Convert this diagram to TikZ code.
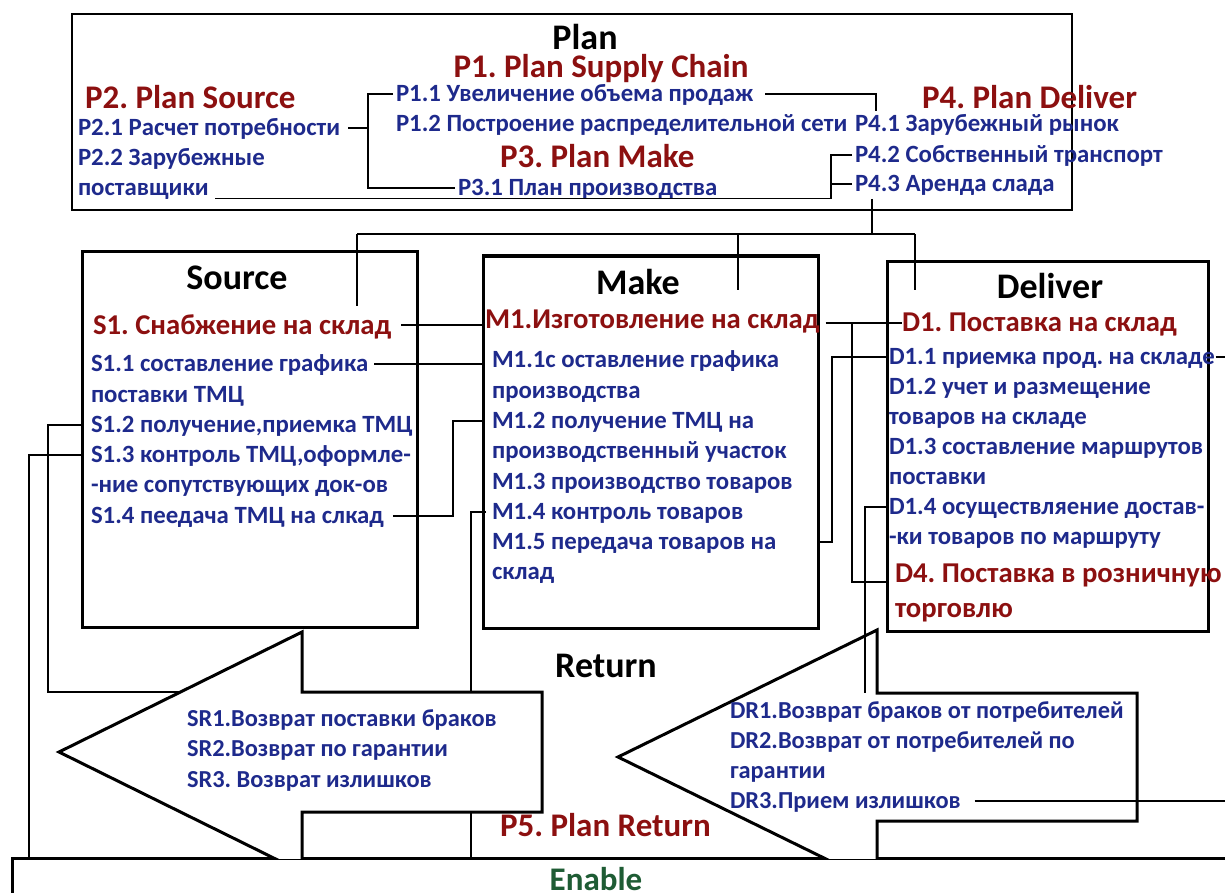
\documentclass[tikz,border=0pt]{standalone}
\usepackage{fontspec}
\setmainfont{Carlito}
\usetikzlibrary{calc}

\definecolor{headred}{RGB}{140,16,16}
\definecolor{itemblue}{RGB}{30,42,140}
\definecolor{enablegreen}{RGB}{30,92,52}

\tikzset{
  lbl/.style={inner sep=0pt, outer sep=0pt, anchor=west, text depth=0pt},
  itemtxt/.style={lbl, text=itemblue, font=\fontsize{24.8}{28}\selectfont\bfseries, text height=15.6pt},
  rettxt/.style={lbl, text=itemblue, font=\fontsize{24.4}{28}\selectfont\bfseries, text height=15.3pt},
  headtxt/.style={lbl, text=headred, font=\fontsize{28.7}{34}\selectfont\bfseries, text height=18.1pt},
  planhead/.style={lbl, text=headred, font=\fontsize{33}{38}\selectfont\bfseries, text height=20.8pt},
  stagetitle/.style={lbl, anchor=center, font=\fontsize{36}{42}\selectfont\bfseries, text height=22.7pt},
  stagebox/.style={draw, line width=3pt, inner sep=0pt, outer sep=0pt, anchor=north west},
  wire/.style={line width=1.4pt},
  retarrow/.style={draw, fill=white, line width=3pt, line join=miter}
}

\begin{document}
\frenchspacing
\begin{tikzpicture}[x=1pt, y=-1pt]
\useasboundingbox (0,0) rectangle (1225,893);

% plan
\node[stagebox, line width=2.2pt, minimum width=1000pt, minimum height=196pt] (planbox) at (72,14) {};
\node[stagetitle] (plan) at (585,38) {Plan};
\node[planhead, anchor=center] (p1) at (601,67) {P1. Plan Supply Chain};
\node[planhead] (p2) at (85,98) {P2. Plan Source};
\node[itemtxt] (p21) at (78,128) {P2.1 Расчет потребности};
\node[itemtxt] (p22) at (78,158) {P2.2 Зарубежные};
\node[itemtxt] (p22b) at (78,188) {поставщики};
\node[itemtxt] (p11) at (396,94) {P1.1 Увеличение объема продаж};
\node[itemtxt] (p12) at (396,124) {P1.2 Построение распределительной сети};
\node[planhead] (p3) at (500,157) {P3. Plan Make};
\node[itemtxt] (p31) at (458,188) {P3.1 План производства};
\node[planhead] (p4) at (922,98) {P4. Plan Deliver};
\node[itemtxt] (p41) at (855,124) {P4.1 Зарубежный рынок};
\node[itemtxt] (p42) at (855,155) {P4.2 Собственный транспорт};
\node[itemtxt] (p43) at (855,184) {P4.3 Аренда слада};

\coordinate (planL) at (368,0);
\coordinate (planR) at (831,0);
\coordinate (lowrow) at ([shift={(6pt,-3pt)}]p22b.south east);
\draw[wire] ([xshift=-3pt]p11.west) -| (planL |- p31.west) -- ([xshift=-3pt]p31.west);
\draw[wire] ([xshift=8pt]p21.east) -- (planL |- p21.east);
\draw[wire] ([xshift=12pt]p11.east) -| ([shift={(21pt,5pt)}]p41.north west);
\draw[wire] ([xshift=-3pt]p42.west) -| (planR |- lowrow) -- (lowrow);
\draw[wire] ([xshift=-3pt]p43.west) -- (planR |- p43.west);

% source
\node[stagebox, minimum width=335pt, minimum height=375pt] (srcbox) at (82,252) {};
\node[stagetitle] (src) at (237,278) {Source};
\node[headtxt] (s1) at (93,325) {S1. Снабжение на склад};
\node[itemtxt] (s11) at (91,364) {S1.1 составление графика};
\node[itemtxt] (s11b) at (91,395) {поставки ТМЦ};
\node[itemtxt] (s12) at (91,425) {S1.2 получение,приемка ТМЦ};
\node[itemtxt] (s13) at (91,455) {S1.3 контроль ТМЦ,оформле-};
\node[itemtxt] (s13b) at (91,485) {-ние сопутствующих док-ов};
\node[itemtxt] (s14) at (91,516) {S1.4 пеедача ТМЦ на слкад};

% make
\node[stagebox, minimum width=335pt, minimum height=372pt] (mkbox) at (483,256) {};
\node[stagetitle] (mk) at (638,283) {Make};
\node[headtxt] (m1) at (485,319) {M1.Изготовление на склад};
\node[itemtxt] (m11) at (492,360) {M1.1с оставление графика};
\node[itemtxt] (m11b) at (492,391) {производства};
\node[itemtxt] (m12) at (492,421) {M1.2 получение ТМЦ на};
\node[itemtxt] (m12b) at (492,451) {производственный участок};
\node[itemtxt] (m13) at (492,482) {M1.3 производство товаров};
\node[itemtxt] (m14) at (492,512) {M1.4 контроль товаров};
\node[itemtxt] (m15) at (492,542) {M1.5 передача товаров на};
\node[itemtxt] (m15b) at (492,572) {склад};

% deliver
\node[stagebox, minimum width=321pt, minimum height=370pt] (dlvbox) at (887,261) {};
\node[stagetitle] (dlv) at (1050,287) {Deliver};
\node[headtxt] (d1) at (902,322) {D1. Поставка на склад};
\node[itemtxt] (d11) at (889,357) {D1.1 приемка прод. на складе};
\node[itemtxt] (d12) at (889,387) {D1.2 учет и размещение};
\node[itemtxt] (d12b) at (889,417) {товаров на складе};
\node[itemtxt] (d13) at (889,447) {D1.3 составление маршрутов};
\node[itemtxt] (d13b) at (889,477) {поставки};
\node[itemtxt] (d14) at (889,507) {D1.4 осуществляение достав-};
\node[itemtxt] (d14b) at (889,537) {-ки товаров по маршруту};
\node[headtxt] (d4) at (895,573) {D4. Поставка в розничную};
\node[headtxt] (d4b) at (895,608) {торговлю};

% enable
\node[stagebox, fill=white, minimum width=1240pt, minimum height=80pt] (enable) at (12,858) {};
\node[planhead, anchor=center, text=enablegreen] (enabletxt) at (596,880) {Enable};

% plan to stages
\coordinate (busL) at (357,234);
\coordinate (busM) at (738,234);
\coordinate (busR) at (915,234);
\coordinate (p43drop) at ([shift={(17pt,-7pt)}]p43.south west);
\draw[wire] (busL) -- (busR);
\draw[wire] (p43drop) -- (p43drop |- busL);
\draw[wire] (busL) -- ($(busL |- s1.north)+(0,-10)$);
\draw[wire] (busM) -- ($(busM |- m1.north)+(0,-20)$);
\draw[wire] (busR) -- ($(busR |- d1.north)+(0,-23)$);

% between stages
\coordinate (colS) at (453,0);
\coordinate (colM) at (471,0);
\coordinate (colMD) at (832,0);
\coordinate (colD4) at (852,0);
\coordinate (mdline) at ([shift={(6pt,-4pt)}]m1.east);
\coordinate (srNeck) at (302,692);
\coordinate (drNeck) at (877,693);
\coordinate (frameR) at (1225,0);
\draw[wire] ([xshift=10pt]s1.east) -- (mkbox.west |- s1.east);
\draw[wire] ([xshift=6pt]s11.east) -- (mkbox.west |- s11.east);
\draw[wire] ([xshift=9pt]s14.east) -| (colS |- m12.west) -- (mkbox.west |- m12.west);
\draw[wire] ([xshift=-6pt]m14.west) -| (colM |- enable.north);
\draw[wire] (srcbox.west |- s12.west) -- ++(-34,0) |- (srNeck);

% return
\begin{scope}
\clip (0,0) rectangle (1225,858);
\draw[retarrow] (59,752) -- (302,632) -- (srNeck) -- (542,692) -- (542,812) -- (302,812) -- (302,872) -- cycle;
\draw[retarrow] (618,757) -- (877,630) -- (drNeck) -- (1137,693) -- (1137,821) -- (877,821) -- (877,884) -- cycle;
\end{scope}
\node[stagetitle] (ret) at (606,666) {Return};
\node[planhead] (p5) at (500,826) {P5. Plan Return};
\node[rettxt] (sr1) at (187,719) {SR1.Возврат поставки браков};
\node[rettxt] (sr2) at (187,749) {SR2.Возврат по гарантии};
\node[rettxt] (sr3) at (187,780) {SR3. Возврат излишков};
\node[rettxt] (dr1) at (730,711) {DR1.Возврат браков от потребителей};
\node[rettxt] (dr2) at (730,741) {DR2.Возврат от потребителей по};
\node[rettxt] (dr2b) at (730,771) {гарантии};
\node[rettxt] (dr3) at (730,801) {DR3.Прием излишков};

\draw[wire] (mdline) -- (mdline -| d1.west);
\draw[wire] (colD4 |- mdline) |- ([yshift=-9pt]dlvbox.west |- d4.west);
\draw[wire] (mkbox.east |- m15.west) -| (colMD |- d11.west) -- (dlvbox.west |- d11.west);
\draw[wire] (dlvbox.west |- d14.west) -| ($(drNeck)+(-12,0)$);
\draw[wire] (srcbox.west |- s13.west) -| ([xshift=17pt]enable.north west);
\draw[wire] ([xshift=1pt]d11.east) -- (d11.east -| frameR);
\draw[wire] ([xshift=14pt]dr3.east) -- (dr3.east -| frameR);
\end{tikzpicture}
\end{document}
